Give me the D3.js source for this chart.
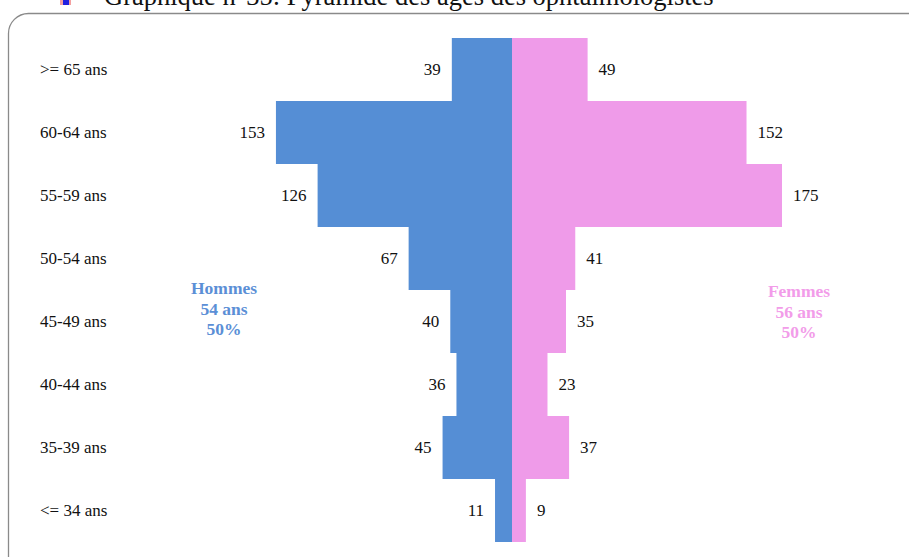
<!DOCTYPE html>
<html>
<head>
<meta charset="utf-8">
<script src="https://cdn.jsdelivr.net/npm/d3@7"></script>
<style>
  html, body { margin: 0; padding: 0; background: #fff; overflow: hidden; }
  svg { display: block; }
</style>
</head>
<body>
<svg id="chart" width="909" height="557"></svg>
<script>
// Age pyramid of ophthalmologists: men to the left, women to the right
const ageGroups = [">= 65 ans", "60-64 ans", "55-59 ans", "50-54 ans", "45-49 ans", "40-44 ans", "35-39 ans", "<= 34 ans"];
const men   = [39, 153, 126, 67, 40, 36, 45, 11];
const women = [49, 152, 175, 41, 35, 23, 37, 9];
const menSummary   = ["Hommes", "54 ans", "50%"];
const womenSummary = ["Femmes", "56 ans", "50%"];
const title = "Graphique n°35: Pyramide des âges des ophtalmologistes";

const svg = d3.select("#chart");
const font = "'Liberation Serif', 'DejaVu Serif', serif";
const blue = "#558ed5", pink = "#ef9be9";

// Title line above the frame, partly clipped by the top of the page
const bullet = svg.append("g").attr("transform", "translate(60,-4)");
bullet.append("rect").attr("x", 0).attr("y", 0).attr("width", 11).attr("height", 9).attr("fill", "#f4a0a0");
bullet.append("rect").attr("x", 3).attr("y", 2).attr("width", 6).attr("height", 7).attr("fill", "#2020e0");
svg.append("text").attr("x", 104).attr("y", 5)
  .attr("font-family", font).attr("font-size", 26.5).attr("fill", "#111")
  .text(title);

// Rounded frame, running past the right and bottom edges
svg.append("rect").attr("x", 8.5).attr("y", 13.5).attr("width", 920).attr("height", 580)
  .attr("rx", 20).attr("ry", 20)
  .attr("fill", "#fff").attr("stroke", "#8a8a8a").attr("stroke-width", 1.3);

const cx = 512;
const x = d3.scaleLinear().domain([0, 175]).range([0, 270]);
const y = d3.scaleBand().domain(ageGroups).range([38, 542]).paddingInner(0).paddingOuter(0);

const rows = ageGroups.map((g, i) => ({ g, m: men[i], f: women[i] }));

// Men bars
svg.append("g").selectAll("rect").data(rows).join("rect")
  .attr("x", d => cx - x(d.m)).attr("y", d => y(d.g))
  .attr("width", d => x(d.m)).attr("height", y.bandwidth())
  .attr("fill", blue);
// Women bars
svg.append("g").selectAll("rect").data(rows).join("rect")
  .attr("x", cx).attr("y", d => y(d.g))
  .attr("width", d => x(d.f)).attr("height", y.bandwidth())
  .attr("fill", pink);

// Value labels
const labelY = d => y(d.g) + y.bandwidth() / 2 + 5.5;
svg.append("g").selectAll("text").data(rows).join("text")
  .attr("x", d => cx - x(d.m) - 11).attr("y", labelY)
  .attr("text-anchor", "end").attr("font-family", font).attr("font-size", 17).attr("fill", "#111")
  .text(d => d.m);
svg.append("g").selectAll("text").data(rows).join("text")
  .attr("x", d => cx + x(d.f) + 11).attr("y", labelY)
  .attr("text-anchor", "start").attr("font-family", font).attr("font-size", 17).attr("fill", "#111")
  .text(d => d.f);

// Age group labels
svg.append("g").selectAll("text").data(rows).join("text")
  .attr("x", 40).attr("y", labelY)
  .attr("font-family", font).attr("font-size", 17).attr("fill", "#111")
  .text(d => d.g);

// Summary blocks
function summary(lines, xc, y0, color) {
  svg.append("g").selectAll("text").data(lines).join("text")
    .attr("x", xc).attr("y", (d, i) => y0 + i * 20.5)
    .attr("text-anchor", "middle").attr("font-family", font).attr("font-size", 17.5)
    .attr("font-weight", "bold").attr("fill", color)
    .text(d => d);
}
summary(menSummary, 224, 294, "#5b8fd6");
summary(womenSummary, 799, 297, "#f29ce9");
</script>
</body>
</html>
